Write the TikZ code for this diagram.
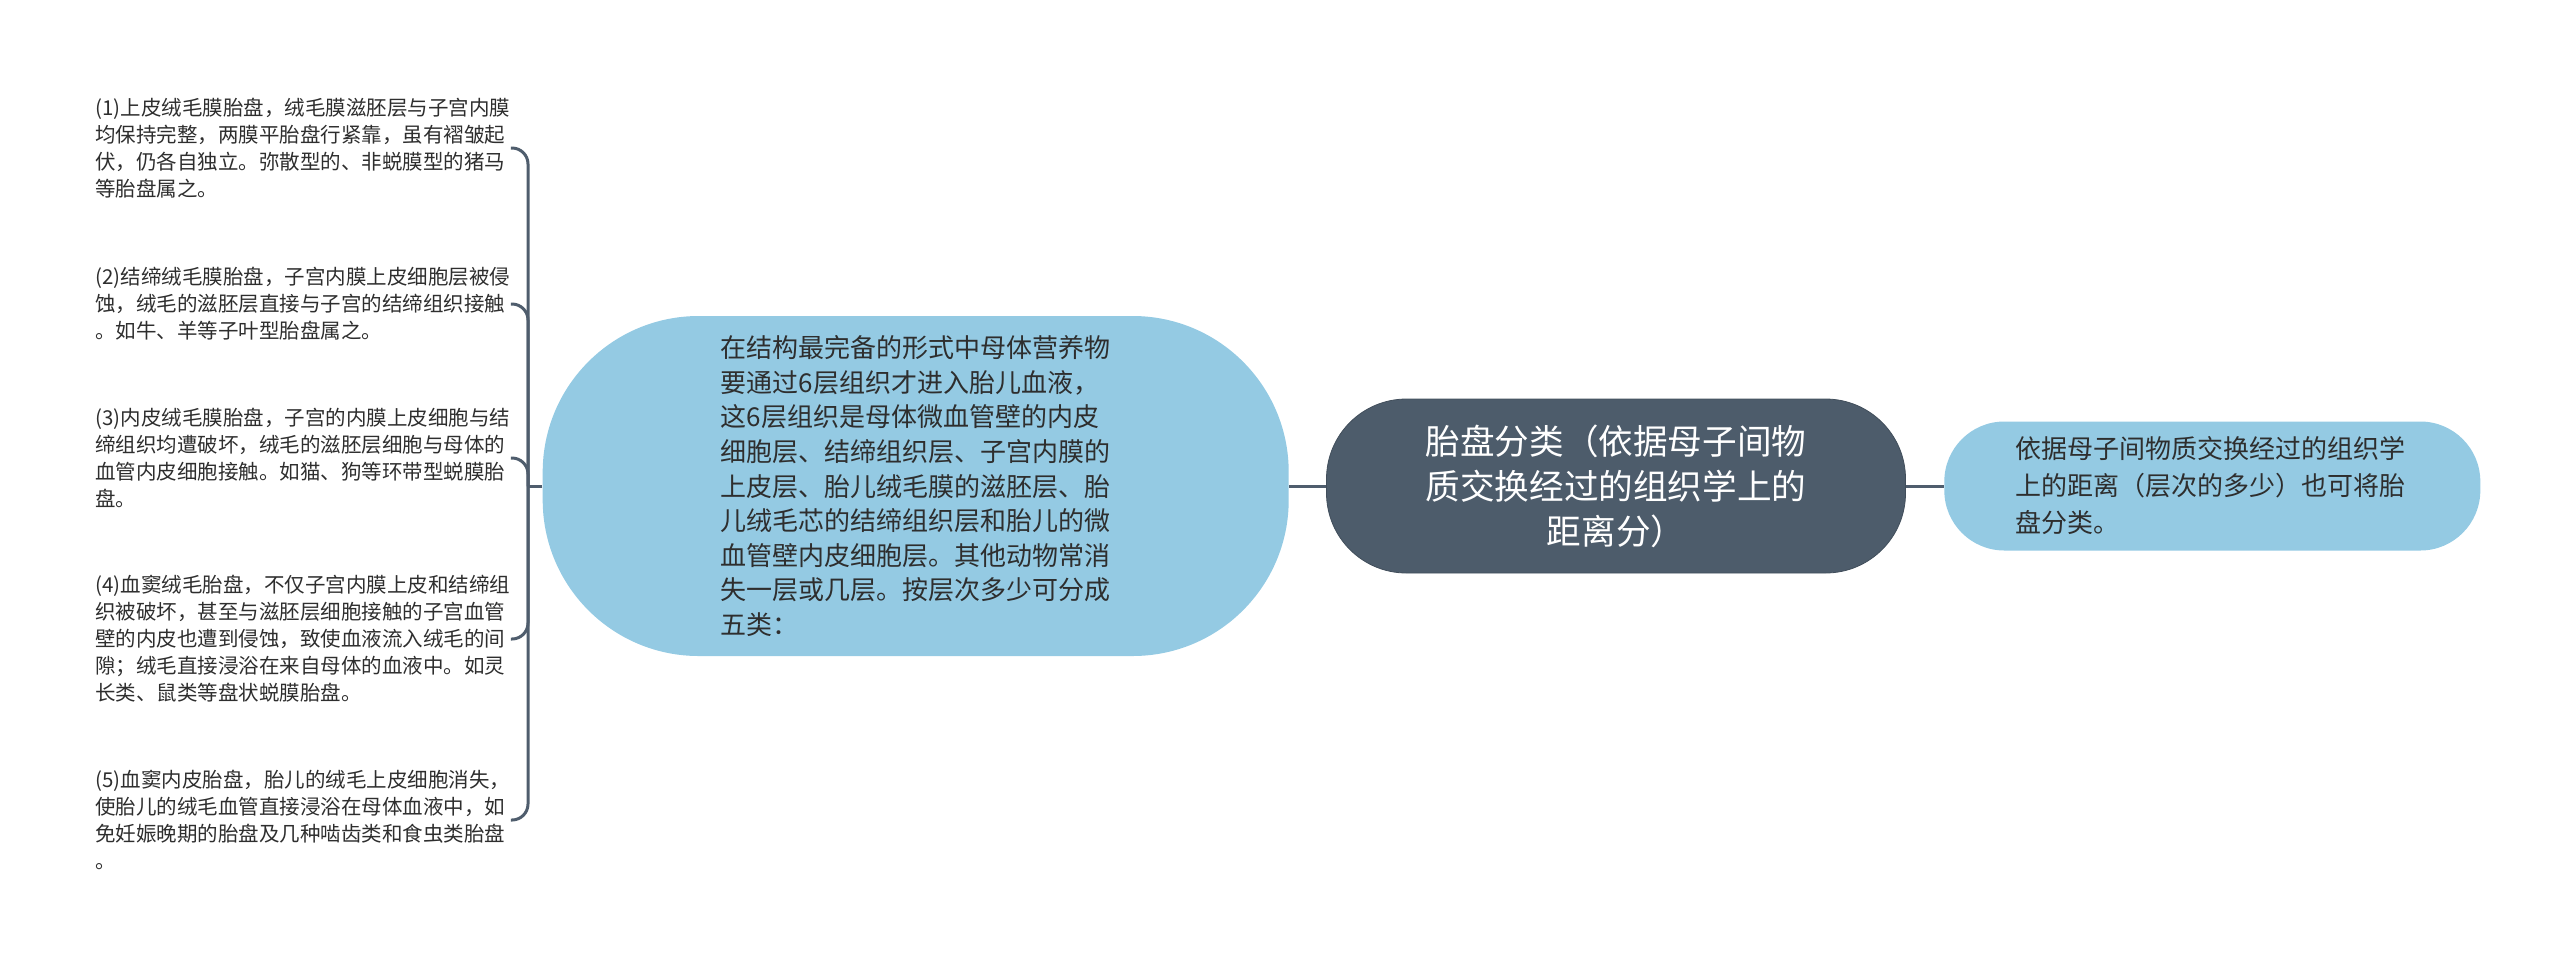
\documentclass[tikz,border=0pt]{standalone}
\usepackage{fontspec}
\setmainfont{Noto Sans CJK SC}
\usetikzlibrary{positioning}
\definecolor{rootgray}{HTML}{4D5C6B}
\definecolor{bubbleblue}{HTML}{94CAE3}
\definecolor{linkgray}{HTML}{4F5D6D}
\definecolor{inkgray}{HTML}{2E2E2E}

\begin{document}
\begin{tikzpicture}[x=0.5pt, y=-0.5pt,
    root/.style={fill=rootgray, draw=rootgray!85!black, text=white, rounded corners=40pt,
        minimum width=289.5pt, minimum height=87pt, inner sep=0pt, align=center,
        font=\fontsize{17.3pt}{22.5pt}\selectfont},
    bubble/.style={fill=bubbleblue, text=inkgray, inner sep=0pt, align=left},
    leaf/.style={text=inkgray, inner sep=0pt, align=left, anchor=west, text width=207.5pt,
        font=\fontsize{10.25pt}{13.5pt}\selectfont},
    link/.style={draw=linkgray, line width=1.5pt}]
    \useasboundingbox (0,0) rectangle (2560,966);
    \node[root] (root) at (1616,486) {胎盘分类（依据母子间物\\质交换经过的组织学上的\\距离分）};
    \node[bubble, left=18.5pt of root, rounded corners=78pt, minimum width=373pt, minimum height=170pt,
        text width=195pt, font=\fontsize{13pt}{17.3pt}\selectfont] (detail)
        {在结构最完备的形式中母体营养物\\要通过6层组织才进入胎儿血液，\\这6层组织是母体微血管壁的内皮\\细胞层、结缔组织层、子宫内膜的\\上皮层、胎儿绒毛膜的滋胚层、胎\\儿绒毛芯的结缔组织层和胎儿的微\\血管壁内皮细胞层。其他动物常消\\失一层或几层。按层次多少可分成\\五类：};
    \node[bubble, right=19pt of root, rounded corners=30pt, minimum width=268pt, minimum height=64.5pt,
        text width=197pt, font=\fontsize{13pt}{18.5pt}\selectfont] (summary)
        {依据母子间物质交换经过的组织学\\上的距离（层次的多少）也可将胎\\盘分类。};
    % the five kinds of placenta
    \node[leaf] (type1) at (95,148) {(1)上皮绒毛膜胎盘，绒毛膜滋胚层与子宫内膜\\均保持完整，两膜平胎盘行紧靠，虽有褶皱起\\伏，仍各自独立。弥散型的、非蜕膜型的猪马\\等胎盘属之。};
    \node[leaf] (type2) at (95,304) {(2)结缔绒毛膜胎盘，子宫内膜上皮细胞层被侵\\蚀，绒毛的滋胚层直接与子宫的结缔组织接触\\。如牛、羊等子叶型胎盘属之。};
    \node[leaf] (type3) at (95,458) {(3)内皮绒毛膜胎盘，子宫的内膜上皮细胞与结\\缔组织均遭破坏，绒毛的滋胚层细胞与母体的\\血管内皮细胞接触。如猫、狗等环带型蜕膜胎\\盘。};
    \node[leaf] (type4) at (95,639) {(4)血窦绒毛胎盘，不仅子宫内膜上皮和结缔组\\织被破坏，甚至与滋胚层细胞接触的子宫血管\\壁的内皮也遭到侵蚀，致使血液流入绒毛的间\\隙；绒毛直接浸浴在来自母体的血液中。如灵\\长类、鼠类等盘状蜕膜胎盘。};
    \node[leaf] (type5) at (95,820) {(5)血窦内皮胎盘，胎儿的绒毛上皮细胞消失，\\使胎儿的绒毛血管直接浸浴在母体血液中，如\\免妊娠晚期的胎盘及几种啮齿类和食虫类胎盘\\。};
    \coordinate (fork) at (528,486);
    \draw[link] (root.west) -- (detail.east);
    \draw[link] (root.east) -- (summary.west);
    \draw[link] (detail.west) -- (fork);
    \foreach \n in {1,...,5}
        \draw[link, rounded corners=8pt] (fork) |- (type\n.east);
\end{tikzpicture}
\end{document}
